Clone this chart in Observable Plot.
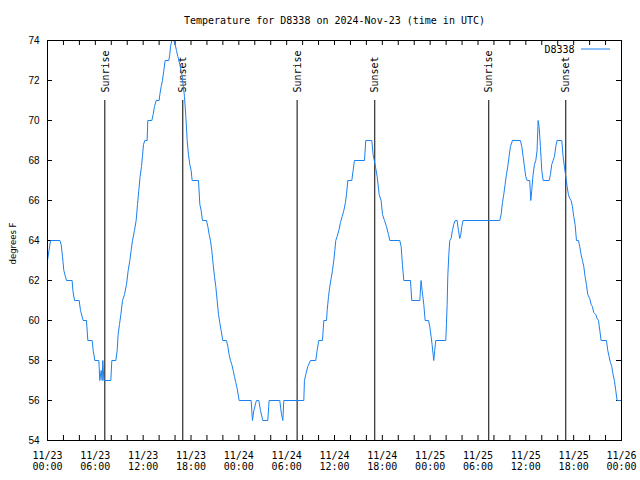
<!DOCTYPE html>
<html><head><meta charset="utf-8">
<script src="https://cdn.jsdelivr.net/npm/d3@7"></script>
<script src="https://cdn.jsdelivr.net/npm/@observablehq/plot@0.6"></script>
<style>body{margin:0;background:#fff}</style>
</head><body><div id="chart"></div>
<script>
// ---- data (hours since 2024-11-23 00:00 UTC, temperature in °F) ----
const hours = [0,0.38,1.55,1.71,1.88,2.05,2.38,3.09,3.18,3.39,3.97,4.14,4.47,4.89,5.06,5.60,5.73,5.94,6.44,6.56,6.73,6.86,6.94,7.07,7.94,8.07,8.57,8.74,8.86,9.03,9.20,9.41,9.66,9.91,10.12,10.33,10.49,10.66,10.91,11.12,11.29,11.45,11.62,11.79,11.91,12.04,12.21,12.50,12.58,13.09,13.25,13.42,13.63,14.0,14.09,14.26,14.42,14.59,14.76,15.22,15.34,15.43,15.59,15.84,16.01,16.18,16.35,16.60,16.85,17.01,17.18,17.35,17.52,17.68,17.85,18.02,18.14,18.94,19.11,19.27,19.44,19.94,20.11,20.28,20.44,20.61,20.78,20.94,21.11,21.28,21.45,21.61,21.78,21.99,22.45,22.62,22.78,22.95,23.12,23.29,23.45,23.62,23.79,24.04,
25.54,25.71,25.88,26.21,26.51,26.71,27.01,27.63,27.80,29.14,29.35,29.52,29.64,32.15,32.23,32.40,32.65,32.98,33.65,33.82,34.03,34.49,34.66,35.0,35.08,35.25,35.41,35.58,35.74,35.91,36.04,36.16,36.33,36.54,36.75,36.96,37.17,37.37,37.50,37.67,38.17,38.34,38.50,39.76,39.92,40.68,40.84,41.09,41.35,41.60,41.85,42.02,42.27,42.52,42.77,42.94,44.19,44.36,44.52,44.69,45.53,45.69,46.70,46.86,46.99,47.20,47.37,47.79,
47.95,48.12,48.24,48.37,48.45,48.57,48.70,49.96,50.04,50.13,50.21,50.34,50.46,50.63,50.79,50.96,51.13,51.38,51.55,51.71,51.84,51.97,52.13,56.73,56.90,57.07,57.23,57.40,57.57,57.73,57.90,58.07,58.32,59.32,59.49,59.66,59.82,59.99,60.16,60.49,60.62,60.74,60.91,61.08,61.25,61.41,61.54,61.66,61.83,62.0,62.17,62.92,63.09,63.25,63.42,63.59,63.76,63.92,64.51,64.67,64.84,65.01,65.18,65.34,65.51,65.68,65.84,66.01,66.18,66.35,66.60,66.76,66.93,67.10,67.27,67.43,67.60,67.77,68.02,68.19,68.35,68.52,68.77,68.94,69.11,69.28,69.44,70.11,70.28,70.44,70.61,70.78,70.94,71.11,71.28,71.45,71.87];
const temps = [63,64,64,63.8,63.2,62.5,62,62,61.5,61,61,60.5,60,60,59,59,58.5,58,58,57,57.5,57,58,57,57,58,58,58.5,59.3,59.8,60.3,61,61.3,61.8,62.5,63,63.5,64,64.5,65,65.8,66.5,67.2,67.7,68.2,68.8,69,69,70,70,70.3,70.7,71,71,71.3,71.7,72,72.5,73,73,73.3,73.7,74,74,73.8,73.5,73.2,72.8,72.3,71.8,71.2,70.2,69,68.3,67.8,67.5,67,67,65.8,65.5,65,65,64.7,64.3,64,63.5,62.8,62.2,61.7,61,60.3,59.9,59.5,59,59,58.7,58.3,58,57.8,57.5,57.2,56.9,56.6,56,
56,55,55.5,56,56,55.5,55,55,56,56,55.3,55,56,56,57,57.3,57.7,58,58,58.5,59,59,60,60,60.5,61.2,61.7,62.1,62.5,63,63.5,64,64.2,64.5,64.9,65.2,65.5,65.9,66.3,67,67,67.5,68,68,69,69,68.3,67.8,67.2,66.3,66,65.3,65,64.7,64.3,64,64,63.7,62.8,62,62,61,61,62,61.5,60.8,60,60,
59.7,59.2,58.8,58.3,58,58.5,59,59,59.8,60.8,62.2,63.3,64,64.1,64.5,64.8,65,65,64.5,64.1,64.3,64.7,65,65,65.3,65.9,66.3,66.8,67.3,67.7,68.2,68.7,69,69,68.7,68.2,67.7,67.2,67,67,66,66.5,67.3,67.8,68,68.5,70,69.7,68.7,67.5,67,67,67.3,67.8,68,68.2,68.7,69,69,68.2,67.7,67.2,66.7,66.3,66.1,66,65.7,65.2,64.8,64,64,63.7,63.3,63,62.7,62.2,61.8,61.3,61.1,60.8,60.7,60.4,60.3,60.1,60,59.5,59,59,58.5,58.2,57.9,57.7,57.3,57,56.5,56,56];

const xTickHours = [0,6,12,18,24,30,36,42,48,54,60,66,72];
const xTickLabels = ["11/23\n00:00","11/23\n06:00","11/23\n12:00","11/23\n18:00","11/24\n00:00","11/24\n06:00","11/24\n12:00","11/24\n18:00","11/25\n00:00","11/25\n06:00","11/25\n12:00","11/25\n18:00","11/26\n00:00"];
const xMinorHours = [0,2,4,6,8,10,12,14,16,18,20,22,24,26,28,30,32,34,36,38,40,42,44,46,48,50,52,54,56,58,60,62,64,66,68,70,72];
const yTicks = [54,56,58,60,62,64,66,68,70,72,74];
const sunEventHours = [7.19,16.97,31.31,41.05,55.35,65.01];
const sunEventLabels = ["Sunrise","Sunset","Sunrise","Sunset","Sunrise","Sunset"];
const seriesName = "D8338";
const titleText = "Temperature for D8338 on 2024-Nov-23 (time in UTC)";
const yLabelText = "degrees F";

// ---- chart ----
const W = 640, H = 480, mL = 47, mR = 19, mT = 40, mB = 40;
const innerW = W - mL - mR, innerH = H - mT - mB;
const mono = "'DejaVu Sans Mono', monospace";
const sans = "'Liberation Sans', Arial, sans-serif";
const narrow = "'Liberation Sans Narrow', 'DejaVu Sans Condensed', 'Liberation Sans', sans-serif";
const lineColor = "#1a80f0";
const tickLen = 5;

const data = hours.map((h, i) => ({h, t: temps[i]}));
const sun = sunEventHours.map((h, i) => ({h, label: sunEventLabels[i]}));

const legendLine = (index, scales, values, dims) => {
  const y = dims.marginTop + 9;
  const x2 = dims.width - dims.marginRight - 11;
  return d3.create("svg:line")
    .attr("x1", x2 - 29).attr("x2", x2)
    .attr("y1", y).attr("y2", y)
    .attr("stroke", lineColor).attr("stroke-width", 1)
    .node();
};

const chart = Plot.plot({
  width: W, height: H,
  marginLeft: mL, marginRight: mR, marginTop: mT, marginBottom: mB,
  style: {background: "white", color: "black", overflow: "visible"},
  x: {domain: [0, 72], label: null},
  y: {domain: [54, 74], label: null},
  marks: [
    Plot.axisX({ticks: xTickHours, tickFormat: d => xTickLabels[xTickHours.indexOf(d)], tickSize: 0, tickPadding: 10, fontFamily: mono, fontSize: 10, lineHeight: 1.15, label: null}),
    Plot.axisY({ticks: yTicks, tickSize: 0, tickPadding: 8, fontFamily: sans, fontSize: 10, label: null}),
    Plot.tickX(xMinorHours, {x: d => d, insetTop: innerH - tickLen, stroke: "black"}),
    Plot.tickX(xMinorHours, {x: d => d, insetBottom: innerH - tickLen, stroke: "black"}),
    Plot.tickY(yTicks, {y: d => d, insetRight: innerW - tickLen, stroke: "black"}),
    Plot.tickY(yTicks, {y: d => d, insetLeft: innerW - tickLen, stroke: "black"}),
    Plot.ruleX(sun, {x: "h", insetTop: 60, stroke: "black", strokeWidth: 1}),
    Plot.text(sun, {x: "h", text: "label", frameAnchor: "top", dy: 52, dx: 0.5, rotate: -90, textAnchor: "start", lineAnchor: "middle", fontFamily: mono, fontSize: 10, fill: "black"}),
    Plot.line(data, {x: "h", y: "t", stroke: lineColor, strokeWidth: 1}),
    Plot.frame({stroke: "black"}),
    Plot.text([titleText], {frameAnchor: "top", dy: -20, textAnchor: "middle", lineAnchor: "middle", fontFamily: mono, fontSize: 10, fill: "black"}),
    Plot.text([yLabelText], {frameAnchor: "left", dx: -35, dy: 3, rotate: -90, textAnchor: "middle", lineAnchor: "middle", fontFamily: narrow, fontSize: 9.5, fill: "black"}),
    Plot.text([seriesName], {frameAnchor: "top-right", dx: -47, dy: 9, textAnchor: "end", lineAnchor: "middle", fontFamily: mono, fontSize: 10, fill: "black"}),
    legendLine
  ]
});
document.getElementById("chart").appendChild(chart);
</script>
</body></html>
